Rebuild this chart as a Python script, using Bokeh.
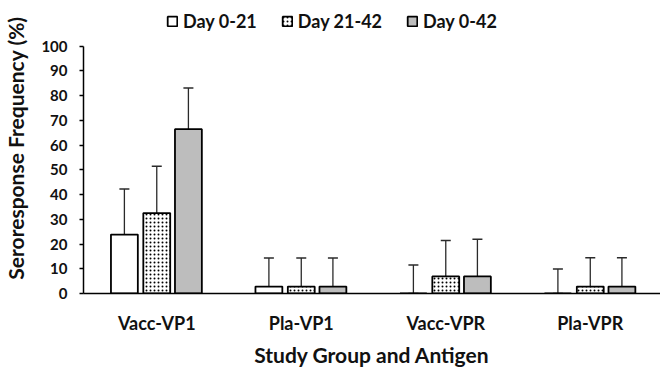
from bokeh.plotting import figure
from bokeh.models import (Range1d, FixedTicker, Whisker, ColumnDataSource,
                          Legend, LegendItem)
from bokeh.embed import file_html
from bokeh.resources import INLINE

categories = ["Vacc-VP1", "Pla-VP1", "Vacc-VPR", "Pla-VPR"]
series = ["Day 0-21", "Day 21-42", "Day 0-42"]

day0_21 = [23.8, 2.8, 0.0, 0.0]
day0_21_lo = [9.9, 0.3, 0.0, 0.0]
day0_21_hi = [42.2, 14.3, 11.5, 9.9]

day21_42 = [32.5, 2.8, 6.9, 2.8]
day21_42_lo = [16.9, 0.3, 0.8, 0.3]
day21_42_hi = [51.4, 14.3, 21.4, 14.4]

day0_42 = [66.4, 2.8, 6.9, 2.8]
day0_42_lo = [47.6, 0.3, 0.8, 0.3]
day0_42_hi = [83.0, 14.3, 21.9, 14.4]

y_ticks = [0, 10, 20, 30, 40, 50, 60, 70, 80, 90, 100]

FONT = "Lato"

p = figure(width=660, height=369, output_backend="svg", toolbar_location=None,
           x_range=Range1d(-0.507, 3.486), y_range=Range1d(0, 117.6),
           min_border_left=81, min_border_right=0, min_border_top=2,
           min_border_bottom=70)
p.outline_line_color = None
p.xgrid.grid_line_color = None
p.ygrid.grid_line_color = None

offsets = [-0.224, 0.0, 0.219]
bar_w = 0.186
vals = [day0_21, day21_42, day0_42]
los = [day0_21_lo, day21_42_lo, day0_42_lo]
his = [day0_21_hi, day21_42_hi, day0_42_hi]
fills = ["white", "white", "#bdbdbd"]
hatches = [None, "dot", None]

items = []
for k in range(3):
    xs = [i + offsets[k] for i in range(len(categories))]
    src = ColumnDataSource(dict(x=xs, top=vals[k], lo=los[k], hi=his[k]))
    if hatches[k]:
        r = p.vbar(x="x", top="top", bottom=0, width=bar_w, source=src,
                   fill_color=fills[k], line_color="black", line_width=1.8,
                   hatch_pattern=hatches[k], hatch_scale=4, hatch_weight=1.3,
                   hatch_color="black")
    else:
        r = p.vbar(x="x", top="top", bottom=0, width=bar_w, source=src,
                   fill_color=fills[k], line_color="black", line_width=1.8)
    w = Whisker(base="x", upper="hi", lower="lo", source=src,
                line_color="#2a2a2a", line_width=1.3)
    w.upper_head.size = 10
    w.lower_head.size = 10
    w.upper_head.line_color = "#2a2a2a"
    w.lower_head.line_color = "#2a2a2a"
    w.upper_head.line_width = 1.5
    w.lower_head.line_width = 1.5
    p.add_layout(w)
    items.append(LegendItem(label=series[k], renderers=[r]))

legend = Legend(items=items, orientation="horizontal", location=(83, 261),
                glyph_width=12, glyph_height=12, label_standoff=5, spacing=24,
                padding=0, margin=0, border_line_color=None,
                background_fill_alpha=0,
                label_text_font=FONT, label_text_font_style="bold",
                label_text_font_size="18px", label_text_color="#111111")
p.add_layout(legend, "center")

# y axis
p.yaxis.bounds = (0, 100)
p.yaxis.ticker = FixedTicker(ticks=y_ticks)
p.yaxis.minor_tick_line_color = None
p.yaxis.major_tick_in = 0
p.yaxis.major_tick_out = 4
p.yaxis.major_tick_line_width = 1.5
p.yaxis.axis_line_width = 1.5
p.yaxis.axis_line_color = "black"
p.yaxis.major_label_standoff = 12
p.yaxis.major_label_text_font = FONT
p.yaxis.major_label_text_font_style = "bold"
p.yaxis.major_label_text_font_size = "15px"
p.yaxis.major_label_text_color = "#111111"
p.yaxis.axis_label = "Seroresponse Frequency (%)"
p.yaxis.axis_label_text_font = FONT
p.yaxis.axis_label_text_font_style = "bold"
p.yaxis.axis_label_text_font_size = "21px"
p.yaxis.axis_label_text_color = "#111111"
p.yaxis.axis_label_standoff = 10

# x axis
p.xaxis.ticker = FixedTicker(ticks=list(range(len(categories))))
p.xaxis.major_label_overrides = {i: c for i, c in enumerate(categories)}
p.xaxis.minor_tick_line_color = None
p.xaxis.major_tick_line_color = None
p.xaxis.major_tick_in = 0
p.xaxis.major_tick_out = 0
p.xaxis.axis_line_width = 1.5
p.xaxis.axis_line_color = "black"
p.xaxis.major_label_standoff = 18
p.xaxis.major_label_text_font = FONT
p.xaxis.major_label_text_font_style = "bold"
p.xaxis.major_label_text_font_size = "18px"
p.xaxis.major_label_text_color = "#111111"
p.xaxis.axis_label = "Study Group and Antigen"
p.xaxis.axis_label_text_font = FONT
p.xaxis.axis_label_text_font_style = "bold"
p.xaxis.axis_label_text_font_size = "21px"
p.xaxis.axis_label_text_color = "#111111"
p.xaxis.axis_label_standoff = 5

open("out.html", "w").write(file_html(p, INLINE))
